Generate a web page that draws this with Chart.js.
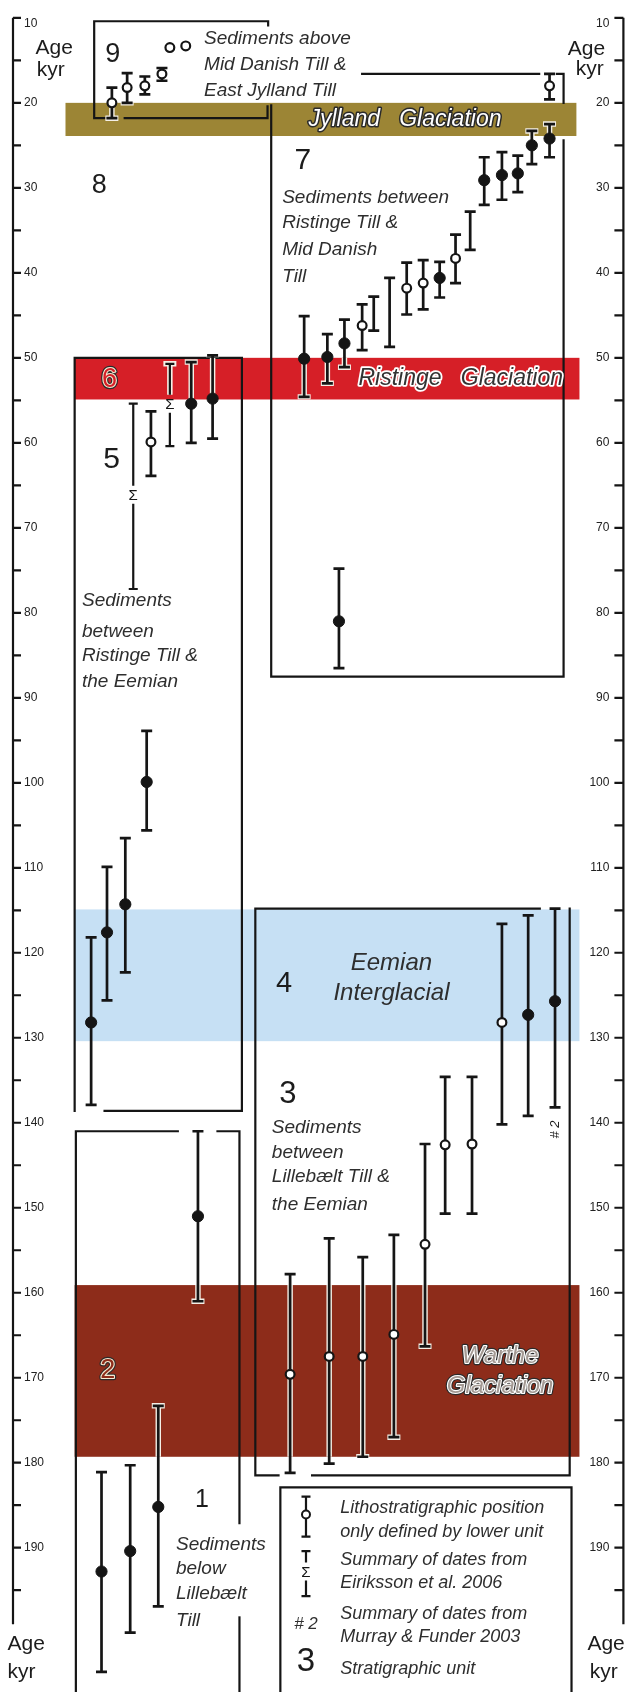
<!DOCTYPE html>
<html>
<head>
<meta charset="utf-8">
<title>Edades</title>
<script src="https://cdn.jsdelivr.net/npm/chart.js@4.4.1/dist/chart.umd.min.js"></script>
<style>
  html, body { margin: 0; padding: 0; background: #fff; }
  #caja { width: 630px; height: 1692px; position: relative; }
</style>
</head>
<body>
<div id="caja"><canvas id="grafico"></canvas></div>
<script>
// --- datos: edad en kyr, posicion = columna horizontal (0-100) ---
const ageMin = 8.675;
const ageMax = 206.2;
const ageTickStep = 5;
const ageLabelStep = 10;
const ageAxisFrom = 10;
const ageAxisTo = 199;

// muestras con punto negro
const filledPos  = [87.9, 85.0, 82.7, 80.1, 77.2, 69.9, 54.3, 51.5, 47.7, 53.4, 29.2, 32.7, 21.9, 18.4, 15.4, 12.8, 84.4, 88.8, 30.3, 23.8, 19.2, 14.5];
const filledAge  = [24.2, 25.0, 28.3, 28.5, 29.1, 40.6, 48.3, 49.9, 50.1, 81.0, 55.4, 54.8, 99.9, 114.3, 117.6, 128.2, 127.3, 125.7, 151.0, 185.2, 190.4, 192.8];
const filledLow  = [22.5, 23.3, 26.2, 25.8, 26.4, 38.7, 45.5, 47.2, 45.1, 74.8, 50.5, 49.7, 93.9, 106.5, 109.9, 118.2, 115.6, 114.8, 141.0, 173.3, 180.3, 181.1];
const filledHigh = [26.4, 27.2, 30.5, 31.4, 32.0, 42.9, 51.1, 53.0, 54.6, 86.5, 60.0, 59.5, 105.6, 122.3, 125.6, 137.9, 139.2, 138.2, 161.0, 196.9, 200.0, 204.6];

// muestras con punto abierto (posicion solo definida por la unidad inferior)
const openPos  = [16.2, 18.7, 21.6, 24.4, 87.9, 25.7, 28.3, 72.5, 67.2, 64.5, 57.2, 22.6, 80.1, 70.8, 75.2, 67.5, 62.4, 57.3, 51.8, 45.4];
const openAge  = [20.0, 18.2, 18.0, 16.6, 18.0, 13.5, 13.3, 38.3, 41.2, 41.8, 46.2, 59.9, 128.2, 142.6, 142.5, 154.3, 164.9, 167.5, 167.5, 169.6];
const openLow  = [18.2, 16.5, 16.9, 15.9, 16.6, null, null, 35.5, 38.5, 38.8, 43.7, 56.3, 116.6, 134.6, 134.6, 142.5, 153.2, 155.8, 153.6, 157.8];
const openHigh = [21.8, 20.0, 19.0, 17.4, 19.6, null, null, 41.2, 44.3, 44.9, 49.1, 63.9, 140.2, 150.7, 150.7, 166.3, 177.0, 179.3, 180.1, 181.2];

// solo barra
const barPos  = [74.9, 61.7, 59.1];
const barLow  = [32.8, 40.6, 42.8];
const barHigh = [37.3, 48.7, 46.8];

// resumen Eiriksson et al. 2006
const sigmaPos  = [25.7, 19.7];
const sigmaLow  = [50.7, 55.4];
const sigmaHigh = [60.4, 77.2];
const sigmaMid  = [55.4, 66.1];

// glaciaciones / interglacial
const bandNames = ['Jylland   Glaciation', 'Ristinge   Glaciation', 'Eemian Interglacial', 'Warthe Glaciation'];
const bandFrom  = [20.0, 50.0, 114.9, 159.1];
const bandTo    = [23.9, 54.9, 130.4, 179.3];

// --- dibujo ---
const FONT = "'Liberation Sans', Arial, sans-serif";
const INK = '#151515';
const bandColors = ['#9c8535', '#d61f27', '#c6e0f4', '#8d2c1a'];
const bandLeft  = [8.6, 10.1, 10.1, 10.1];
const bandRight = [92.3, 92.8, 92.8, 92.8];
const glaciations = [0, 1, 3];

const frames = [
  [[41.8, 10.9], [41.8, 10.4], [13.3, 10.4], [13.3, 21.8], [15.0, 21.8]],
  [[18.3, 21.8], [41.7, 21.8], [41.7, 20.4]],
  [[57.2, 16.6], [86.2, 16.6]],
  [[89.1, 16.6], [90.2, 16.6], [90.2, 20.0]],
  [[42.3, 20.3], [42.3, 87.5], [90.2, 87.5], [90.2, 24.4]],
  [[15.0, 138.6], [37.5, 138.6], [37.5, 50.0], [10.1, 50.0], [10.1, 138.6]],
  [[27.0, 141.0], [10.3, 141.0], [10.3, 207]],
  [[33.5, 141.0], [37.1, 141.0], [37.1, 187.1]],
  [[37.1, 198.2], [37.1, 207]],
  [[86.3, 114.8], [39.7, 114.8], [39.7, 181.5], [43.5, 181.5]],
  [[49.0, 181.5], [91.2, 181.5], [91.2, 114.8]],
  [[43.8, 207], [43.8, 182.9], [91.5, 182.9], [91.5, 207]]
];

// [texto, x, edad, fuente, alineacion]
const notes = [
  ['Sediments above', 31.3, 12.5, 'italic 19px', 'left'],
  ['Mid Danish Till &', 31.3, 15.5, 'italic 19px', 'left'],
  ['East Jylland Till', 31.3, 18.6, 'italic 19px', 'left'],
  ['Sediments between', 44.1, 31.2, 'italic 19px', 'left'],
  ['Ristinge Till &', 44.1, 34.1, 'italic 19px', 'left'],
  ['Mid Danish', 44.1, 37.3, 'italic 19px', 'left'],
  ['Till', 44.1, 40.4, 'italic 19px', 'left'],
  ['Sediments', 11.3, 78.6, 'italic 19px', 'left'],
  ['between', 11.3, 82.2, 'italic 19px', 'left'],
  ['Ristinge Till &', 11.3, 85.1, 'italic 19px', 'left'],
  ['the Eemian', 11.3, 88.1, 'italic 19px', 'left'],
  ['Sediments', 42.4, 140.6, 'italic 19px', 'left'],
  ['between', 42.4, 143.5, 'italic 19px', 'left'],
  ['Lillebælt Till &', 42.4, 146.4, 'italic 19px', 'left'],
  ['the Eemian', 42.4, 149.6, 'italic 19px', 'left'],
  ['Sediments', 26.7, 189.6, 'italic 19px', 'left'],
  ['below', 26.7, 192.5, 'italic 19px', 'left'],
  ['Lillebælt', 26.7, 195.4, 'italic 19px', 'left'],
  ['Till', 26.7, 198.6, 'italic 19px', 'left'],
  ['Eemian', 62.0, 121.3, 'italic 24px', 'center'],
  ['Interglacial', 62.0, 124.8, 'italic 24px', 'center'],
  ['9', 15.1, 14.3, '27px', 'left'],
  ['8', 12.9, 29.7, '27px', 'left'],
  ['7', 46.1, 26.8, '30px', 'left'],
  ['5', 14.8, 62.0, '30px', 'left'],
  ['4', 43.1, 123.7, '29px', 'left'],
  ['3', 43.6, 136.7, '31px', 'left'],
  ['1', 29.8, 184.4, '25px', 'left'],
  ['Age', 3.7, 13.6, '21px', 'left'],
  ['kyr', 3.9, 16.1, '21px', 'left'],
  ['Age', 90.9, 13.7, '21px', 'left'],
  ['kyr', 92.2, 16.0, '21px', 'left'],
  ['Age', -0.9, 201.3, '21px', 'left'],
  ['kyr', -0.9, 204.6, '21px', 'left'],
  ['Age', 94.1, 201.3, '21px', 'left'],
  ['kyr', 94.5, 204.6, '21px', 'left'],
  ['Lithostratigraphic position', 53.6, 185.3, 'italic 18px', 'left'],
  ['only defined by lower unit', 53.6, 188.1, 'italic 18px', 'left'],
  ['Summary of dates from', 53.6, 191.5, 'italic 18px', 'left'],
  ['Eiriksson et al. 2006', 53.6, 194.1, 'italic 18px', 'left'],
  ['Summary of dates from', 53.6, 197.8, 'italic 18px', 'left'],
  ['Murray & Funder 2003', 53.6, 200.5, 'italic 18px', 'left'],
  ['Stratigraphic unit', 53.6, 204.3, 'italic 18px', 'left'],
  ['# 2', 48.0, 199.0, 'italic 17px', 'center'],
  ['3', 48.0, 203.4, '33px', 'center']
];

function outlined(ctx, txt, x, y, fill, inner, outer, ow) {
  ctx.lineJoin = 'round';
  if (outer) { ctx.strokeStyle = outer; ctx.lineWidth = ow || 4.5; ctx.strokeText(txt, x, y); }
  if (inner) { ctx.strokeStyle = inner; ctx.lineWidth = 2.2; ctx.strokeText(txt, x, y); }
  ctx.fillStyle = fill; ctx.fillText(txt, x, y);
}

function allBars() {
  const list = [];
  filledPos.forEach((p, i) => list.push({ x: p, lo: filledLow[i], hi: filledHigh[i] }));
  openPos.forEach((p, i) => { if (openLow[i] !== null) list.push({ x: p, lo: openLow[i], hi: openHigh[i] }); });
  barPos.forEach((p, i) => list.push({ x: p, lo: barLow[i], hi: barHigh[i] }));
  sigmaPos.forEach((p, i) => list.push({ x: p, lo: sigmaLow[i], hi: sigmaHigh[i], mid: sigmaMid[i] }));
  return list;
}

function bar(ctx, x, y1, y2, cap, mid) {
  ctx.beginPath();
  if (mid === undefined) {
    ctx.moveTo(x, y1); ctx.lineTo(x, y2);
  } else {
    ctx.moveTo(x, y1); ctx.lineTo(x, mid - 9);
    ctx.moveTo(x, mid + 9); ctx.lineTo(x, y2);
  }
  ctx.moveTo(x - cap, y1); ctx.lineTo(x + cap, y1);
  ctx.moveTo(x - cap, y2); ctx.lineTo(x + cap, y2);
  ctx.stroke();
}

const dibujo = {
  id: 'dibujo',
  beforeDatasetsDraw(chart) {
    const ctx = chart.ctx;
    const X = v => chart.scales.x.getPixelForValue(v);
    const Y = v => chart.scales.y.getPixelForValue(v);
    ctx.save();
    bandFrom.forEach((f, i) => {
      ctx.fillStyle = bandColors[i];
      ctx.fillRect(X(bandLeft[i]), Y(f), X(bandRight[i]) - X(bandLeft[i]), Y(bandTo[i]) - Y(f));
    });

    ctx.strokeStyle = INK; ctx.lineWidth = 2.2; ctx.lineJoin = 'miter'; ctx.lineCap = 'square';
    frames.forEach(seg => {
      ctx.beginPath();
      seg.forEach((p, k) => k ? ctx.lineTo(X(p[0]), Y(p[1])) : ctx.moveTo(X(p[0]), Y(p[1])));
      ctx.stroke();
    });

    const bars = allBars();
    ctx.lineCap = 'butt';
    // halo claro dentro de las glaciaciones
    glaciations.forEach(i => {
      ctx.save();
      ctx.beginPath();
      ctx.rect(X(bandLeft[i]), Y(bandFrom[i]), X(bandRight[i]) - X(bandLeft[i]), Y(bandTo[i]) - Y(bandFrom[i]));
      ctx.clip();
      ctx.strokeStyle = '#f4efe6'; ctx.lineWidth = 5.5;
      bars.forEach(b => bar(ctx, X(b.x), Y(b.lo), Y(b.hi), 6.5, b.mid === undefined ? undefined : Y(b.mid)));
      ctx.restore();
    });
    ctx.strokeStyle = INK;
    bars.forEach(b => {
      ctx.lineWidth = b.mid === undefined ? 2.7 : 2.2;
      bar(ctx, X(b.x), Y(b.lo), Y(b.hi), b.mid === undefined ? 5.5 : 4.5, b.mid === undefined ? undefined : Y(b.mid));
    });
    ctx.fillStyle = INK; ctx.font = '15px ' + FONT; ctx.textAlign = 'center'; ctx.textBaseline = 'middle';
    sigmaPos.forEach((p, i) => ctx.fillText('Σ', X(p), Y(sigmaMid[i]) + 1));
    ctx.restore();
  },
  afterDatasetsDraw(chart) {
    const ctx = chart.ctx;
    const X = v => chart.scales.x.getPixelForValue(v);
    const Y = v => chart.scales.y.getPixelForValue(v);
    const area = chart.chartArea;
    ctx.save();

    // ejes con marcas y rotulos hacia dentro
    ctx.strokeStyle = INK; ctx.lineWidth = 2.2; ctx.lineCap = 'butt';
    ctx.beginPath();
    ctx.moveTo(area.left, Y(ageAxisFrom)); ctx.lineTo(area.left, Y(ageAxisTo));
    ctx.moveTo(area.right, Y(ageAxisFrom)); ctx.lineTo(area.right, Y(ageAxisTo));
    const ticks = chart.scales.y.ticks.filter(t => t.value >= ageAxisFrom && t.value <= ageAxisTo && t.value % ageTickStep === 0);
    ticks.forEach(t => {
      const y = Y(t.value);
      ctx.moveTo(area.left, y); ctx.lineTo(area.left + 8, y);
      ctx.moveTo(area.right, y); ctx.lineTo(area.right - 9, y);
    });
    ctx.stroke();
    ctx.fillStyle = '#222'; ctx.font = '12px ' + FONT; ctx.textBaseline = 'middle';
    ticks.forEach(t => {
      if (t.value % ageLabelStep !== 0) return;
      const y = Y(t.value) + (t.value === ageAxisFrom ? 6 : 0);
      ctx.textAlign = 'left'; ctx.fillText(String(t.value), area.left + 11, y);
      ctx.textAlign = 'right'; ctx.fillText(String(t.value), area.right - 14, y);
    });

    // leyenda: simbolos
    const lx = X(48.0);
    ctx.strokeStyle = INK; ctx.lineWidth = 2.2;
    bar(ctx, lx, Y(184.0), Y(188.7), 4.5);
    ctx.beginPath(); ctx.arc(lx, Y(186.1), 4, 0, Math.PI * 2);
    ctx.fillStyle = '#fff'; ctx.fill(); ctx.lineWidth = 2; ctx.stroke();
    ctx.lineWidth = 2.2;
    bar(ctx, lx, Y(190.4), Y(195.7), 4.5, Y(192.8));
    ctx.fillStyle = INK; ctx.font = '15px ' + FONT; ctx.textAlign = 'center'; ctx.textBaseline = 'middle';
    ctx.fillText('Σ', lx, Y(192.8) + 1);

    // textos
    notes.forEach(n => {
      ctx.font = n[3] + ' ' + FONT;
      ctx.textAlign = n[4];
      ctx.fillStyle = n[3].startsWith('italic') ? '#2e2e2e' : '#1c1c1c';
      ctx.fillText(n[0], X(n[1]), Y(n[2]));
    });

    // nombres de las bandas
    ctx.textAlign = 'left';
    ctx.font = 'italic 23px ' + FONT;
    outlined(ctx, bandNames[0], X(48.4), Y((bandFrom[0] + bandTo[0]) / 2), '#ffffff', null, '#2a2a2a', 3);
    outlined(ctx, bandNames[1], X(56.6), Y((bandFrom[1] + bandTo[1]) / 2), '#333333', null, '#ffffff', 3.5);
    ctx.textAlign = 'center';
    ctx.font = 'italic 24px ' + FONT;
    const w = bandNames[3].split(' ');
    outlined(ctx, w[0], X(79.8), Y(167.5), '#a39993', '#ffffff', '#2a2a2a');
    outlined(ctx, w[1], X(79.8), Y(171.0), '#a39993', '#ffffff', '#2a2a2a');
    ctx.textAlign = 'left';
    ctx.font = '27px ' + FONT;
    outlined(ctx, '6', X(14.6), Y(52.6), bandColors[1], '#f6ead2', '#2a2a2a');
    outlined(ctx, '2', X(14.3), Y(169.2), bandColors[3], '#f6ead2', '#2a2a2a');

    // "# 2" girado
    ctx.save();
    ctx.translate(X(88.8), Y(140.8));
    ctx.rotate(-Math.PI / 2);
    ctx.font = 'italic 13px ' + FONT; ctx.fillStyle = '#1c1c1c'; ctx.textAlign = 'center';
    ctx.fillText('# 2', 0, 0);
    ctx.restore();

    ctx.restore();
  }
};

const ageAxis = (position) => ({
  type: 'linear',
  display: false,
  position: position,
  reverse: true,
  min: ageMin,
  max: ageMax,
  ticks: { stepSize: ageTickStep, includeBounds: false, autoSkip: false }
});

new Chart(document.getElementById('grafico').getContext('2d'), {
  type: 'scatter',
  data: {
    datasets: [
      {
        label: 'filled',
        data: filledPos.map((p, i) => ({ x: p, y: filledAge[i] })),
        pointRadius: 5.6,
        pointBackgroundColor: INK,
        pointBorderColor: INK,
        pointBorderWidth: 1
      },
      {
        label: 'open',
        data: openPos.map((p, i) => ({ x: p, y: openAge[i] })),
        pointRadius: 4.4,
        pointBackgroundColor: '#ffffff',
        pointBorderColor: INK,
        pointBorderWidth: 2.2
      }
    ]
  },
  options: {
    responsive: true,
    maintainAspectRatio: false,
    animation: false,
    devicePixelRatio: 1,
    layout: { padding: { left: 13, right: 3, top: 0, bottom: 0 } },
    plugins: { legend: { display: false }, tooltip: { enabled: false } },
    scales: {
      x: { type: 'linear', min: 0, max: 100, display: false },
      y: ageAxis('left')
    }
  },
  plugins: [dibujo]
});
</script>
</body>
</html>
